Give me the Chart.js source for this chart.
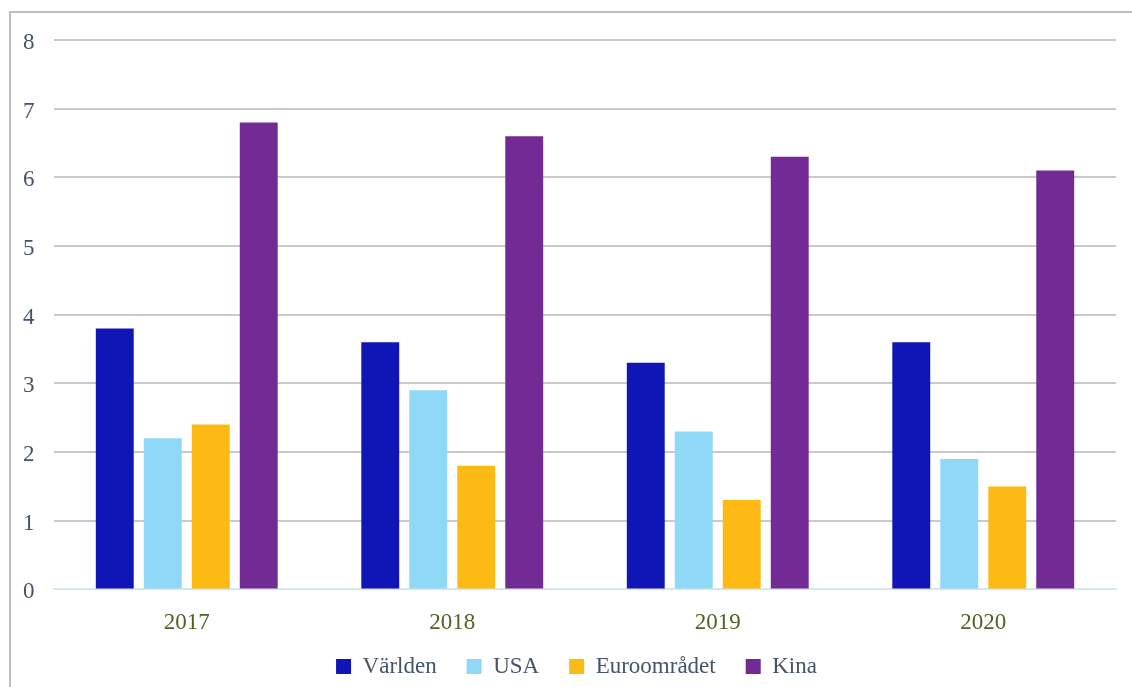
<!DOCTYPE html>
<html>
<head>
<meta charset="utf-8">
<script src="https://cdn.jsdelivr.net/npm/chart.js@4/dist/chart.umd.min.js"></script>
<style>
  html, body { margin: 0; padding: 0; background: #fff; overflow: hidden; }
  #box {
    position: absolute; left: 9px; top: 11px;
    width: 1140px; height: 720px;
    border: 2px solid #bfbfbf;
  }
  #wrap { position: absolute; left: 0; top: 0; width: 1121px; height: 707px; }
</style>
</head>
<body>
<div id="box"><div id="wrap"><canvas id="c"></canvas></div></div>
<script>
const years = ['2017', '2018', '2019', '2020'];
const varlden = [3.8, 3.6, 3.3, 3.6];
const usa = [2.2, 2.9, 2.3, 1.9];
const euro = [2.4, 1.8, 1.3, 1.5];
const kina = [6.8, 6.6, 6.3, 6.1];
const yTicks = [0, 1, 2, 3, 4, 5, 6, 7, 8];

const font = { family: '"Liberation Serif", "DejaVu Serif", serif', size: 23 };

// nudge the legend a bit closer to the axis labels, like the original
const legendShift = {
    id: 'legendShift',
    afterLayout(chart) {
        const l = chart.legend;
        if (!l) return;
        l.top -= 32; l.bottom -= 32;
        l.left += 7; l.right += 7;
    },
};

const ctx = document.getElementById('c').getContext('2d');
new Chart(ctx, {
    type: 'bar',
    data: {
        labels: years,
        datasets: [
            { label: 'Världen', data: varlden, backgroundColor: '#1016b6' },
            { label: 'USA', data: usa, backgroundColor: '#8fd8f6' },
            { label: 'Euroområdet', data: euro, backgroundColor: '#fdb914' },
            { label: 'Kina', data: kina, backgroundColor: '#722a95' },
        ],
    },
    options: {
        responsive: true,
        maintainAspectRatio: false,
        animation: false,
        datasets: {
            bar: { categoryPercentage: 0.723, barPercentage: 0.79 },
        },
        layout: { padding: { left: 12, right: 16, top: 27, bottom: 0 } },
        plugins: {
            tooltip: { enabled: false },
            legend: {
                position: 'bottom',
                labels: {
                    font: font,
                    color: '#44546a',
                    boxWidth: 15,
                    boxHeight: 15,
                    padding: 30,
                },
            },
        },
        scales: {
            x: {
                grid: { display: false, drawTicks: false },
                border: { display: true, color: '#d3e6f2', width: 2 },
                ticks: { font: font, color: '#4f6228', padding: 20 },
            },
            y: {
                min: 0,
                max: 8,
                afterFit: (s) => { s.width = 31; },
                afterBuildTicks: (s) => { s.ticks = yTicks.map(v => ({ value: v })); },
                grid: {
                    drawTicks: false,
                    lineWidth: 2,
                    color: (c) => c.tick && c.tick.value === 0 ? 'rgba(0,0,0,0)' : '#c9c9c9',
                },
                border: { display: false },
                ticks: { font: font, color: '#44546a', padding: 0, crossAlign: 'far', labelOffset: 3 },
            },
        },
    },
    plugins: [legendShift],
});
</script>
</body>
</html>
